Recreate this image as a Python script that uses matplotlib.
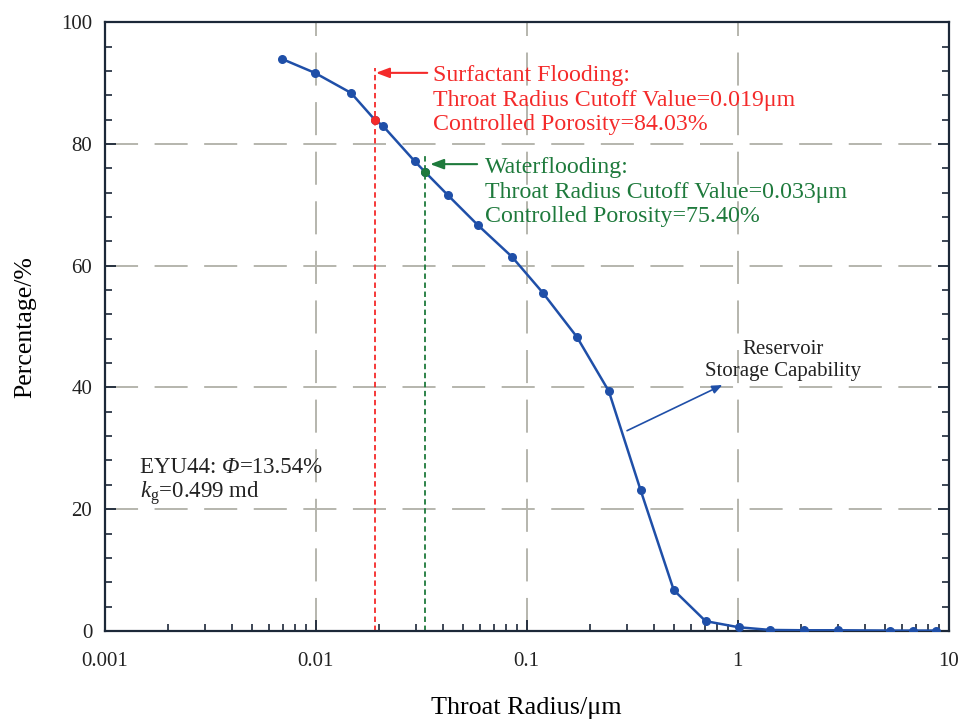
import matplotlib
matplotlib.use("Agg")
import matplotlib.pyplot as plt
from matplotlib.ticker import FixedLocator, FixedFormatter, LogLocator, NullFormatter
from matplotlib.offsetbox import TextArea, HPacker, AnnotationBbox

plt.rcParams['font.family'] = ['Liberation Serif', 'DejaVu Serif']
plt.rcParams['mathtext.fontset'] = 'custom'
plt.rcParams['mathtext.rm'] = 'Liberation Serif'
plt.rcParams['mathtext.it'] = 'Liberation Serif:italic'

# -----------------------------
# Data
# -----------------------------
radius = [0.0069, 0.0099, 0.0147, 0.019, 0.0208, 0.0294, 0.033, 0.0423,
          0.0586, 0.085, 0.119, 0.173, 0.245, 0.347, 0.498, 0.705,
          1.01, 1.43, 2.06, 2.98, 5.3, 6.8, 8.7]
percent = [94.0, 91.7, 88.4, 84.03, 83.0, 77.2, 75.40, 71.6,
           66.7, 61.5, 55.6, 48.3, 39.4, 23.1, 6.7, 1.6,
           0.6, 0.15, 0.1, 0.1, 0.05, 0.05, 0.05]

surf_r, surf_p = 0.019, 84.03
water_r, water_p = 0.033, 75.40

x_ticks = [0.001, 0.01, 0.1, 1, 10]
x_labels = ["0.001", "0.01", "0.1", "1", "10"]
y_ticks = [0, 20, 40, 60, 80, 100]

blue = "#1f4fa8"
red = "#f42a2a"
green = "#1e7a3c"
navy = "#1c2838"
dark = "#222222"

fig = plt.figure(figsize=(9.62, 7.21), dpi=100)
ax = fig.add_axes([0.109, 0.125, 0.877, 0.844])

ax.set_xscale("log")
ax.set_xlim(0.001, 10)
ax.set_ylim(0, 100)

# grid on major ticks only
ax.grid(True, which="major", color="#b5b5ad", linestyle=(0, (17, 8.5)), linewidth=1.4)

ax.plot(radius, percent, color=blue, linewidth=1.8, zorder=3)
ax.scatter(radius, percent, s=30, color=blue, zorder=4)
ax.scatter([surf_r], [surf_p], s=30, color=red, zorder=5)
ax.scatter([water_r], [water_p], s=30, color=green, zorder=5)

# cutoff lines
ax.plot([surf_r, surf_r], [0, 92.5], color=red, linestyle=(0, (3, 2)), linewidth=1.3, zorder=2)
ax.plot([water_r, water_r], [0, 78.2], color=green, linestyle=(0, (3, 2)), linewidth=1.3, zorder=2)

# annotations
arrow_style = "-|>,head_length=0.8,head_width=0.3"
ax.annotate("", xy=(0.0187, 91.7), xytext=(0.0348, 91.7),
            arrowprops=dict(arrowstyle=arrow_style, color=red, lw=1.5))
ax.annotate("", xy=(0.0338, 76.7), xytext=(0.0600, 76.7),
            arrowprops=dict(arrowstyle=arrow_style, color=green, lw=1.5))
ax.text(0.0359, 92.95, "Surfactant Flooding:\nThroat Radius Cutoff Value=0.019\u03bcm\nControlled Porosity=84.03%",
        color=red, fontsize=17.2, ha="left", va="top", linespacing=1.22)
ax.text(0.0632, 77.85, "Waterflooding:\nThroat Radius Cutoff Value=0.033\u03bcm\nControlled Porosity=75.40%",
        color=green, fontsize=17.2, ha="left", va="top", linespacing=1.22)

ax.annotate("", xy=(0.87, 40.6), xytext=(0.291, 32.7),
            arrowprops=dict(arrowstyle="-|>,head_length=0.6,head_width=0.25",
                            color=blue, lw=1.2))
ax.text(1.65, 44.4, "Reservoir\nStorage Capability", color=dark,
        fontsize=15, ha="center", va="center", linespacing=1.2)

# well info, phi in italics
info_props = dict(fontsize=16.5, color=dark)
line1 = HPacker(children=[
    TextArea("EYU44: ", textprops=info_props),
    TextArea("\u03a6", textprops=dict(style="italic", **info_props)),
    TextArea("=13.54%", textprops=info_props),
], align="baseline", pad=0, sep=0)
ab = AnnotationBbox(line1, (0.00147, 26.9), box_alignment=(0, 0.5), frameon=False,
                    pad=0, xycoords="data")
ax.add_artist(ab)
ax.text(0.00147, 22.6, "$\\mathit{k}_{\\rm g}$=0.499 md", fontsize=16.5, color=dark,
        ha="left", va="center")

# ticks
ax.xaxis.set_major_locator(FixedLocator(x_ticks))
ax.xaxis.set_major_formatter(FixedFormatter(x_labels))
ax.xaxis.set_minor_locator(LogLocator(base=10, subs=range(2, 10), numticks=20))
ax.xaxis.set_minor_formatter(NullFormatter())
ax.yaxis.set_major_locator(FixedLocator(y_ticks))
ax.yaxis.set_minor_locator(FixedLocator([v for v in range(0, 101, 4) if v % 20 != 0]))

ax.tick_params(which="both", direction="in", colors=navy, labelcolor=dark,
               top=False, right=True, labelsize=15)
ax.tick_params(which="major", length=8, width=1.3)
ax.tick_params(which="minor", length=5, width=1.2)
ax.tick_params(axis="x", which="major", pad=15)
ax.tick_params(axis="y", which="major", pad=9)
for side in ("left", "bottom", "right", "top"):
    ax.spines[side].set_color(navy)
    ax.spines[side].set_linewidth(1.6)

ax.set_xlabel("Throat Radius/\u03bcm", fontsize=18.8, labelpad=19)
ax.set_ylabel("Percentage/%", fontsize=18.5, labelpad=18)

fig.savefig("out.png", dpi=100)
